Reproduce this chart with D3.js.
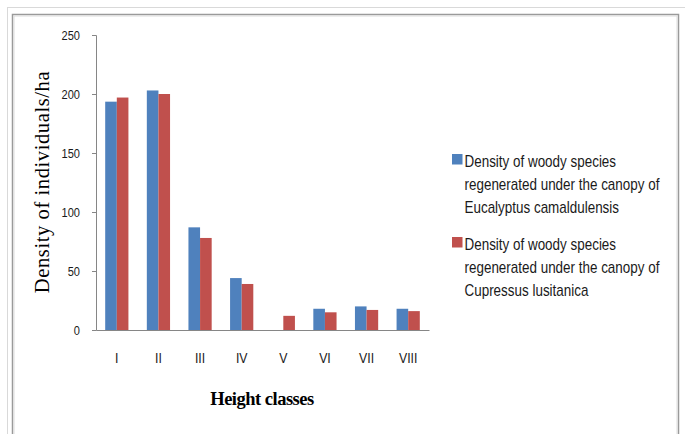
<!DOCTYPE html>
<html>
    <head>
        <meta charset="utf-8">
        <title>Density by height class</title>
        <style>
            body { margin: 0; background: #fff; }
            .tick text { font-family: "Liberation Sans", Arial, sans-serif; fill: #1a1a1a; }
            .legend text { font: 16px "Liberation Sans", Arial, sans-serif; fill: #1a1a1a; }
        </style>
    </head>
    <body>
        <svg width="685" height="434"></svg>

        <script src="https://d3js.org/d3.v7.min.js"></script>
        <script>
            var classes = ["I", "II", "III", "IV", "V", "VI", "VII", "VIII"];
            var eucalyptus = [193.5, 203, 87, 44, 0, 18, 20, 18];
            var cupressus = [197, 200, 78, 39, 12, 15, 17, 16];
            var yTicks = [0, 50, 100, 150, 200, 250];
            var seriesNames = [
                ["Density of woody species", "regenerated under the canopy of", "Eucalyptus camaldulensis"],
                ["Density of woody species", "regenerated under the canopy of", "Cupressus lusitanica"]
            ];
            var colors = ["#4f81bd", "#c0504d"];
            var narrow = 0.82; // squeeze Liberation Sans toward Calibri widths

            var svg = d3.select("svg");

            // outer page lines and chart frame
            svg.append("line").attr("x1", 7).attr("x2", 685).attr("y1", 7.5).attr("y2", 7.5)
                .attr("stroke", "#d9d9d9");
            svg.append("line").attr("x1", 7.5).attr("x2", 7.5).attr("y1", 7).attr("y2", 434)
                .attr("stroke", "#d9d9d9");
            svg.append("rect").attr("x", 12.5).attr("y", 14.5).attr("width", 666).attr("height", 440)
                .attr("fill", "none").attr("stroke", "#9a9a9a").attr("stroke-width", 1.5);
            svg.append("rect").attr("x", 14).attr("y", 16).attr("width", 663).attr("height", 440)
                .attr("fill", "none").attr("stroke", "#dcdcdc").attr("stroke-width", 1);

            var x = d3.scaleBand().domain(classes).range([96, 429]);
            var y = d3.scaleLinear().domain([0, 250]).range([330, 35]);
            var inner = d3.scaleBand().domain([0, 1]).range([9.2, x.bandwidth() - 9.2]);

            var g = svg.append("g");

            var yAxis = g.append("g")
                .attr("transform", "translate(96,0)")
                .call(d3.axisLeft(y).tickValues(yTicks).tickSize(4));
            yAxis.selectAll("path, line").attr("stroke", "#868686");
            yAxis.select(".domain").attr("d", "M-4,35.5H0.5V330.5H-4");
            yAxis.selectAll(".tick text")
                .style("font-size", "13.5px")
                .attr("x", -16 / narrow)
                .attr("transform", "scale(" + narrow + ",1)");

            var xAxis = g.append("g")
                .attr("transform", "translate(0,330)")
                .call(d3.axisBottom(x).tickSize(0).tickPadding(22));
            xAxis.select(".domain").attr("stroke", "#868686");
            xAxis.selectAll(".tick text")
                .style("font-size", "15px")
                .attr("transform", "scale(" + narrow + ",1)");

            var data = [eucalyptus, cupressus];
            data.forEach(function(vals, s) {
                g.selectAll(".bar" + s)
                    .data(vals)
                    .enter()
                    .append("rect")
                    .attr("x", function(d, i) { return x(classes[i]) + inner(s); })
                    .attr("y", function(d) { return y(d); })
                    .attr("width", inner.bandwidth())
                    .attr("height", function(d) { return y(0) - y(d); })
                    .attr("fill", colors[s]);
            });

            svg.append("text")
                .attr("transform", "translate(49,182) rotate(-90)")
                .attr("text-anchor", "middle")
                .style("font", "20.5px 'Liberation Serif', serif")
                .style("letter-spacing", "0.6px")
                .text("Density of individuals/ha");

            svg.append("text")
                .attr("x", 262)
                .attr("y", 405)
                .attr("text-anchor", "middle")
                .style("font", "bold 18.5px 'Liberation Serif', serif")
                .style("letter-spacing", "-0.5px")
                .text("Height classes");

            var legend = svg.append("g").attr("class", "legend")
                .selectAll("g")
                .data(seriesNames)
                .enter()
                .append("g")
                .attr("transform", function(d, i) { return "translate(452," + (154 + i * 83) + ")"; });

            legend.append("rect")
                .attr("width", 10.5)
                .attr("height", 10.5)
                .attr("fill", function(d, i) { return colors[i]; });

            legend.selectAll("g")
                .data(function(d) { return d; })
                .enter()
                .append("g")
                .attr("transform", function(d, i) { return "translate(12.5," + (12.7 + i * 23) + ")"; })
                .append("text")
                .attr("transform", "scale(0.84,1)")
                .text(function(d) { return d; });
        </script>
    </body>
</html>
